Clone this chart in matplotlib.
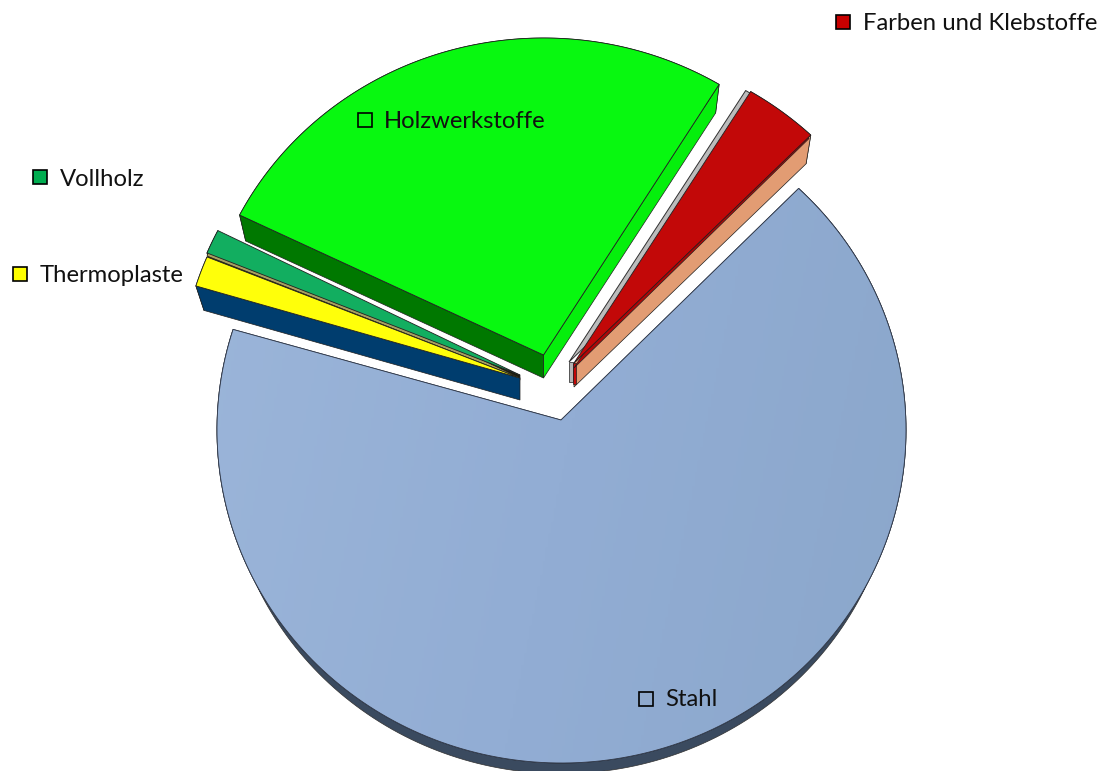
import numpy as np
from matplotlib import pyplot as plt
from matplotlib.patches import Polygon
from matplotlib.colors import LinearSegmentedColormap

# Data: shares in percent, counter clockwise from the Stahl/Farben gap
labelL = ["Farben und Klebstoffe", "Holzwerkstoffe", "Vollholz", "Thermoplaste", "Stahl"]
shareV = [3.5, 26.0, 1.2, 1.5, 67.8]

# Styles
topColorL = ["#c20808", "#08f810", "#12ae60", "#ffff0a", "#8fa9cd"]
keyColorL = ["#c80000", "#08f810", "#00ad50", "#ffff00", "#8fa9cd"]
edgeColorL = ["#e29c73", "#007800", "#1c1c10", "#003d6e", "#3a4a5f"]

# Layout, in pixels of the picture
startAngle = 46.5
apexL = [(574, 363), (543.5, 355), (520, 375), (520, 378), (561, 420)]
centerL = [(574, 373), (543.5, 365), (520, 381), (520, 385), (561.5, 430)]
radiusL = [(344, 328), (342, 327), (340, 328), (340, 328), (344.5, 333)]
depthL = [24, 23, 5, 22, 19]
scaleL = [0.98, 0.98, 0.995, 0.975, 0.975]
keyPosL = [(843, 22), (365, 120), (40, 177), (20, 274), (646, 699)]
textPosL = [(863, 24), (384, 122), (60, 179), (40, 276), (665, 700)]


def get_outline(i, t0, t1, depth=0, scale=1.0, dx=0, dy=0):
    """Apex and arc of slice i, optionally pushed down by depth and shrunk"""
    tV = np.radians(np.linspace(t0, t1, 200))
    cx, cy = centerL[i]
    rx, ry = radiusL[i]
    arc = np.column_stack([cx + scale * rx * np.cos(tV) + dx,
                           cy + depth - scale * ry * np.sin(tV) + dy])
    ax_, ay_ = apexL[i]
    apex = np.array([ax_ + dx, ay_ + depth + dy])
    return apex, arc


def add_wall(ax, ptA, ptB, ptC, ptD, color, z):
    ax.add_patch(Polygon([ptA, ptB, ptC, ptD], closed=True, facecolor=color,
                         edgecolor="#202020", linewidth=0.5, zorder=z))


def add_top(ax, i, t0, t1, color, z, dx=0, dy=0, ec="#202020", lw=0.6):
    apex, arc = get_outline(i, t0, t1, dx=dx, dy=dy)
    patch = Polygon(np.vstack([apex, arc]), closed=True, facecolor=color,
                    edgecolor=ec, linewidth=lw, zorder=z)
    ax.add_patch(patch)
    return patch


def main():
    plt.rcParams["font.family"] = ["Lato", "DejaVu Sans"]
    fig = plt.figure(figsize=(11.04, 7.71), dpi=100)
    ax = fig.add_axes([0, 0, 1, 1])

    # Slice limits follow from the shares
    angleV = startAngle + np.concatenate([[0], np.cumsum(shareV)]) / np.sum(shareV) * 360.0

    for i in range(len(shareV)):
        t0, t1 = angleV[i], angleV[i + 1]
        z = 2 + i
        aTop, arcTop = get_outline(i, t0, t1)
        aBot, arcBot = get_outline(i, t0, t1, depthL[i], scaleL[i])

        # Outer wall
        ax.add_patch(Polygon(np.vstack([arcTop, arcBot[::-1]]), closed=True,
                             facecolor=edgeColorL[i], edgecolor="#303030",
                             linewidth=0.5, zorder=z))
        # Straight walls
        if i == 0:
            add_wall(ax, aTop, arcTop[0], arcBot[0], aBot, edgeColorL[i], z + 0.05)
        elif i == 1:
            add_wall(ax, aTop, arcTop[0], arcBot[0], aBot, "#05ef0c", z)
            add_wall(ax, aTop, arcTop[-1], arcBot[-1], aBot, edgeColorL[i], z)
        elif i == 2 or i == 3:
            add_wall(ax, aTop, arcTop[-1], arcBot[-1], aBot, edgeColorL[i], z)

        if i == 0:
            # gray rim behind the left edge, red apex wall, dark red lip under the top
            gTop, gArc = get_outline(i, t0, t1, dx=-5, dy=-1)
            gBot = gTop + np.array([0, depthL[i] - 4])
            add_wall(ax, gTop, gTop + np.array([4, 0]), gBot + np.array([4, 0]), gBot, "#b4b4b4", z)
            add_top(ax, i, t0, t1, "#bcbcbc", z, dx=-5, dy=-1, ec="#303030", lw=0.7)
            add_wall(ax, aTop + np.array([-1, 0]), aTop + np.array([2, 0]),
                     aBot + np.array([2, -3]), aBot + np.array([-1, -3]), "#c20808", z + 0.1)
            add_top(ax, i, t0 + 0.4, t1, "#b00606", z + 0.1, dy=5, lw=0.5)
        if i == 2:
            add_top(ax, i, t0, t1, "#1c1c10", z, dy=6, lw=0.4)
            add_top(ax, i, t0, t1, "#a8a060", z + 0.1, dy=3, ec="#1c1c10", lw=0.4)

        if i == 4:
            # Stahl carries a soft gradient
            patch = add_top(ax, i, t0, t1, topColorL[i], z + 0.2, ec="#303848", lw=0.6)
            gradCm = LinearSegmentedColormap.from_list(
                "stahl", ["#9bb5d9", "#92add4", "#8ba7cb"])
            xx, yy = np.meshgrid(np.linspace(0, 1, 256), np.linspace(0, 1, 256))
            img = ax.imshow(0.85 * xx + 0.15 * yy, cmap=gradCm, vmin=0, vmax=1,
                            extent=(217, 906, 771, 180), aspect="auto", zorder=z + 0.3)
            img.set_clip_path(patch)
            ax.add_patch(Polygon(patch.get_xy(), closed=True, fill=False,
                                 edgecolor="#303848", linewidth=0.6, zorder=z + 0.4))
        else:
            add_top(ax, i, t0, t1, topColorL[i], z + 0.2)

    # Labels with their keys
    for i in range(len(labelL)):
        ax.plot(keyPosL[i][0], keyPosL[i][1], marker="s", markersize=10.5,
                markerfacecolor=keyColorL[i], markeredgecolor="black",
                markeredgewidth=1.2, zorder=20, linestyle="none")
        ax.text(textPosL[i][0], textPosL[i][1], labelL[i], fontsize=17.2, color="#111111",
                va="center", ha="left", zorder=20)

    ax.set_xlim(0, 1104)
    ax.set_ylim(771, 0)
    ax.axis("off")
    fig.savefig("out.png", dpi=100, facecolor="white")


if __name__ == "__main__":
    main()
